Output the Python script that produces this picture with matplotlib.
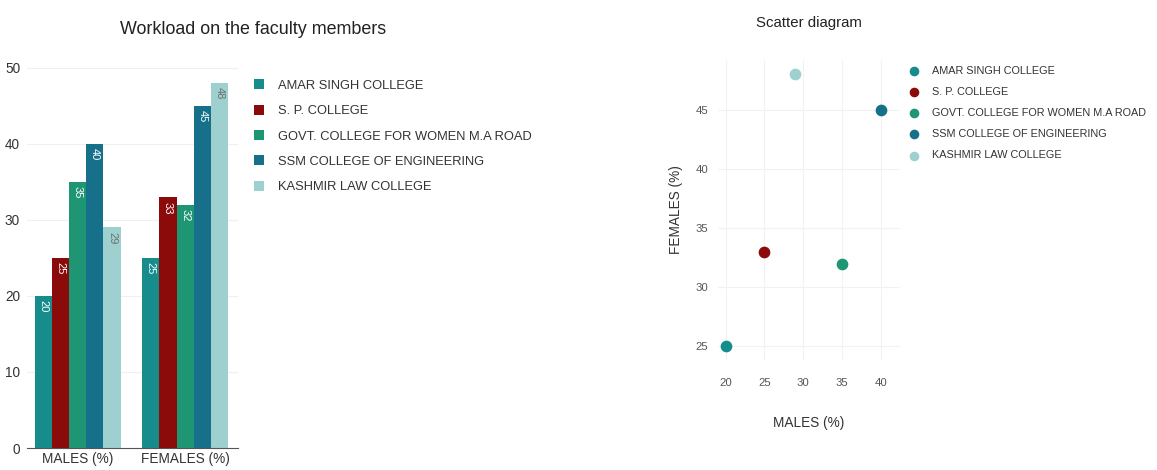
import numpy as np
import matplotlib.pyplot as plt

plt.rcParams['font.family'] = ['Liberation Sans', 'DejaVu Sans']

colleges = ['AMAR SINGH COLLEGE', 'S. P. COLLEGE', 'GOVT. COLLEGE FOR WOMEN M.A ROAD',
            'SSM COLLEGE OF ENGINEERING', 'KASHMIR LAW COLLEGE']
groups = ['MALES (%)', 'FEMALES (%)']
males = [20, 25, 35, 40, 29]
females = [25, 33, 32, 45, 48]
colors = ['#168c8c', '#8b0b0b', '#1e9674', '#17708a', '#9ed0cf']
label_colors = ['white', 'white', 'white', 'white', '#707070']

fig = plt.figure(figsize=(11.57, 4.7), dpi=100)

# bar chart
ax1 = fig.add_axes([27 / 1157, 22 / 470, 211 / 1157, 388 / 470])
w = 0.16
xg = np.arange(len(groups))
for i, name in enumerate(colleges):
    vals = [males[i], females[i]]
    xs = xg + (i - 2) * w
    ax1.bar(xs, vals, w, color=colors[i], label=name)
    for x, v in zip(xs, vals):
        ax1.text(x, v - 0.6, str(v), rotation=270, ha='center', va='top',
                 color=label_colors[i], fontsize=8)
ax1.set_xlim(-0.47, 1.49)
ax1.set_ylim(0, 51)
ax1.set_xticks(xg)
ax1.set_xticklabels(groups, fontsize=9.8, color='#333333')
ax1.set_yticks([0, 10, 20, 30, 40, 50])
ax1.tick_params(axis='y', length=0, labelsize=9.8, labelcolor='#333333', pad=5)
ax1.tick_params(axis='x', length=0, pad=3)
ax1.yaxis.grid(True, color='#f0f0f0', lw=0.8)
ax1.set_axisbelow(True)
for s in ['top', 'right', 'left']:
    ax1.spines[s].set_visible(False)
ax1.spines['bottom'].set_color('#555555')
ax1.set_title('Workload on the faculty members', fontsize=12.9, color='#222222',
              x=1.07, pad=19)
ax1.legend(loc='upper left', bbox_to_anchor=(1.02, 0.98), frameon=False,
           fontsize=9.3, handlelength=0.8, handleheight=0.8, labelspacing=1.0,
           handletextpad=1.1, labelcolor='#333333')

# scatter diagram
ax2 = fig.add_axes([718 / 1157, 110 / 470, 182 / 1157, 300 / 470])
for i, name in enumerate(colleges):
    ax2.scatter(males[i], females[i], s=55, color=colors[i], label=name, zorder=3)
ax2.set_xlim(19, 42.5)
ax2.set_ylim(23.85, 49.2)
ax2.set_xticks([20, 25, 30, 35, 40])
ax2.set_yticks([25, 30, 35, 40, 45])
ax2.tick_params(length=0, labelsize=8.2, labelcolor='#555555')
ax2.tick_params(axis='x', pad=13)
ax2.tick_params(axis='y', pad=7)
ax2.grid(True, color='#f2f2f2', lw=0.8)
ax2.set_axisbelow(True)
for s in ax2.spines.values():
    s.set_visible(False)
ax2.set_xlabel('MALES (%)', fontsize=9.8, color='#333333', labelpad=20)
ax2.set_ylabel('FEMALES (%)', fontsize=9.8, color='#333333', labelpad=9)
ax2.set_title('Scatter diagram', fontsize=10.8, color='#222222', pad=24)
ax2.legend(loc='upper left', bbox_to_anchor=(0.965, 1.012), frameon=False,
           fontsize=7.8, handletextpad=0.6, labelspacing=1.02, markerscale=0.8,
           labelcolor='#333333')

fig.savefig('out.png', dpi=100)
